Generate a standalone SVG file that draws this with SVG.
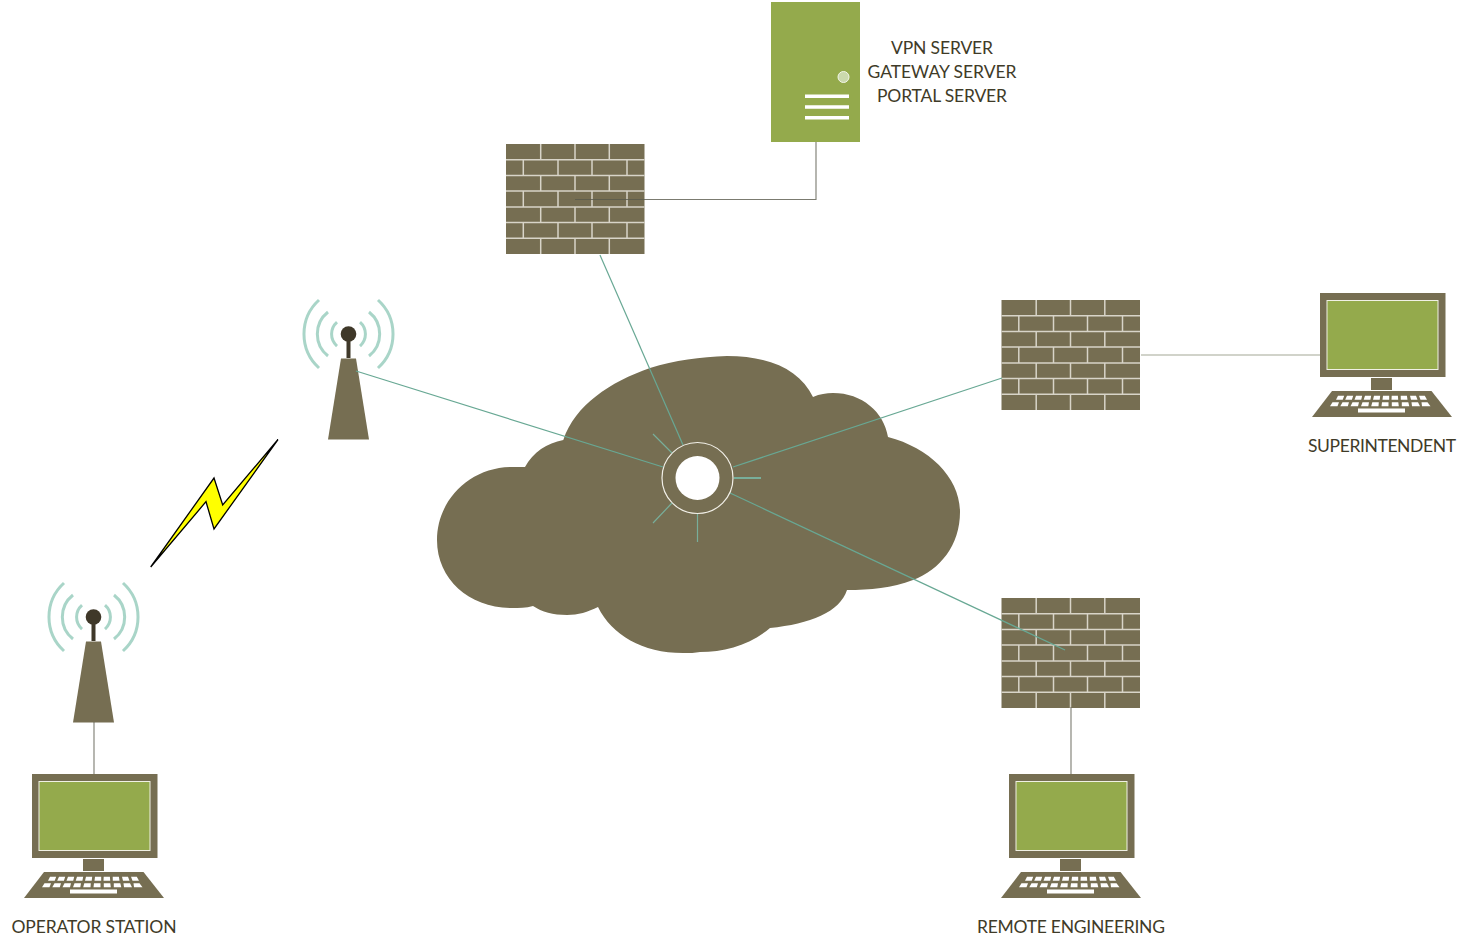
<svg xmlns="http://www.w3.org/2000/svg" xmlns:xlink="http://www.w3.org/1999/xlink" width="1467" height="949" viewBox="0 0 1467 949">
<style>
text{font-family:"Lato","Liberation Sans",sans-serif;font-size:17.5px;fill:#3f3b28;text-anchor:middle}
.brown{fill:#766e52}
.green{fill:#94aa4c}
.mortar{stroke:#d8d4c8;stroke-width:1.5;fill:none}
.wave{stroke:#a9d5c8;stroke-width:3;fill:none}
.teal{stroke:#68a894;stroke-width:1.200;fill:none}
.gray{stroke:#5a5a4c;stroke-opacity:.8;stroke-width:1.100;fill:none}
.pale{stroke:#a3a896;stroke-width:1.200;fill:none}
.ray{stroke:#78ae9a;stroke-width:1.200;fill:none}
.key{fill:#fff}
</style>
<defs>
<g id="firewall">
<rect class="brown" x="0" y="0" width="138.500" height="110"/>
<path class="mortar" d="M0 15.700H138.500M0 31.400H138.500M0 47.100H138.500M0 62.900H138.500M0 78.600H138.500M0 94.300H138.500"/>
<path class="mortar" d="M34.700 0V15.700M69 0V15.700M103.300 0V15.700M17.300 15.700V31.400M52 15.700V31.400M86 15.700V31.400M121 15.700V31.400M34.700 31.400V47.100M69 31.400V47.100M103.300 31.400V47.100M17.300 47.100V62.900M52 47.100V62.900M86 47.100V62.900M121 47.100V62.900M34.700 62.900V78.600M69 62.900V78.600M103.300 62.900V78.600M17.300 78.600V94.300M52 78.600V94.300M86 78.600V94.300M121 78.600V94.300M34.700 94.300V110M69 94.300V110M103.300 94.300V110"/>
</g>
<g id="computer">
<rect class="brown" x="0" y="0" width="125.500" height="84"/>
<rect class="green" x="7" y="7.500" width="111" height="69" stroke="#f0f0e4" stroke-width="1"/>
<rect class="brown" x="51" y="85" width="21" height="12"/>
<path class="brown" d="M12 98H111.500L132 124H-8Z"/>
<g class="key">
<path d="M18 102.700h6.200l-1.500 4h-6.700zM27 102.700h6.200l-1.300 4h-6.700zM36 102.700h6.200l-1 4h-6.700zM45 102.700h6.200l-.8 4h-6.700zM54 102.700h6.200l-.5 4h-6.700zM63 102.700h6.200v4h-6.700zM71.700 102.700h6.200l.3 4h-6.700zM80.700 102.700h6.200l.6 4h-6.700zM90 102.700h6l1.500 4h-6.500zM99 102.700h5.800l2.200 4h-6.500z"/>
<path d="M12.500 109.300h6.500l-1.500 4h-7.500zM22.500 109.300h6.500l-1.200 4h-7.500zM32.500 109.300h6.500l-1 4h-7.500zM42.500 109.300h6.500l-.7 4h-7.300zM52.300 109.300h6.500l-.3 4h-7.300zM62 109.300h6.500v4h-7zM71.800 109.300h6.500l.5 4h-7zM81.800 109.300h6.500l1 4h-7.500zM91.500 109.300h6.500l2 4h-8zM101.500 109.300h6l3 4h-8.500z"/>
<rect x="38" y="115.500" width="47" height="4"/>
</g>
</g>
<g id="tower">
<path class="wave" d="M-29.500 -34A46 46 0 0 0 -29.500 34M-20.500 -22A28 28 0 0 0 -20.500 22M-11.500 -12A16 16 0 0 0 -11.500 12"/>
<path class="wave" d="M29.500 -34A46 46 0 0 1 29.500 34M20.500 -22A28 28 0 0 1 20.500 22M11.500 -12A16 16 0 0 1 11.500 12"/>
<circle cx="0" cy="0" r="7.800" fill="#3f3829"/>
<rect x="-2" y="3" width="4" height="21" fill="#3f3829"/>
<path class="brown" d="M-7.500 24.500H7.500L20.500 105.500H-20.500Z"/>
</g>
</defs>

<g id="cloud">
<path class="brown" d="M563.300 440C575 405 610 382 650 368C675 360 700 357 727 356C770 356 800 370 813 397C820 394 826 393 833 393C862 393 884 412 888 437C930 448 960 478 960 512C960 545 940 570 913 580C892 588 870 590 847 590C840 612 810 624 770 628C750 645 725 652 700 652C695 653 690 653 683 653C642 653 612 635 598 607C588 612 578 615 567 615C553 615 542 612 533 606C526 608 519 608 512 608C470 608 437 580 437 540C437 500 470 467 512 467C516 467 520 467 525 467C533 452 547 443 563.300 440Z"/>
</g>
<g id="firewall-top"><use href="#firewall" x="506" y="144"/></g>
<g id="firewall-right"><use href="#firewall" x="1001.500" y="300"/></g>
<g id="firewall-bottom"><use href="#firewall" x="1001.500" y="598"/></g>
<g id="server">
<rect class="green" x="771" y="2" width="89" height="140"/>
<circle cx="843.500" cy="77" r="5.500" fill="#cbd9ad" stroke="#f2f5e8" stroke-width="1"/>
<path d="M805 96.200H849M805 107H849M805 117.800H849" stroke="#fff" stroke-width="3.600" fill="none"/>
<text x="942" y="54" textLength="102">VPN SERVER</text>
<text x="942" y="78" textLength="149">GATEWAY SERVER</text>
<text x="942" y="102" textLength="130">PORTAL SERVER</text>
</g>
<g id="computer-superintendent"><use href="#computer" x="1320" y="293"/><text x="1382" y="452" textLength="148">SUPERINTENDENT</text></g>
<g id="computer-remote"><use href="#computer" x="1009" y="774"/><text x="1071" y="933" textLength="188">REMOTE ENGINEERING</text></g>
<g id="computer-operator"><use href="#computer" x="32" y="774"/><text x="94" y="933" textLength="165">OPERATOR STATION</text></g>
<g id="tower-near"><use href="#tower" x="348.500" y="334"/></g>
<g id="tower-far"><use href="#tower" x="93.500" y="617"/></g>
<g id="lightning"><path d="M278 439.500L222.700 505L214 478L150.700 567L206 501.700L214 529Z" fill="#ffff00" stroke="#000" stroke-width="1.300"/></g>

<g id="connectors">
<path class="gray" d="M575 199.500H816V142"/>
<path class="teal" d="M600 255L683 445"/>
<path class="teal" d="M356 371L663 467"/>
<path class="teal" d="M733 467L1002 378"/>
<path class="teal" d="M730 493L1065 650"/>
<path class="pale" d="M1141 355H1320"/>
<path class="gray" d="M94 722V774"/>
<path class="gray" d="M1071 707V774"/>
</g>
<g id="hub">
<circle cx="697.500" cy="478" r="35.500" fill="none" stroke="#f2f0e8" stroke-width="1.200"/>
<circle cx="697.500" cy="478" r="22" fill="#fff"/>
<path class="ray" d="M653 434L672 453M672 503L653 523M697.500 514V542"/>
<path class="ray" stroke-width="2" style="stroke-width:2" d="M734 478H761"/>
</g>
</svg>
